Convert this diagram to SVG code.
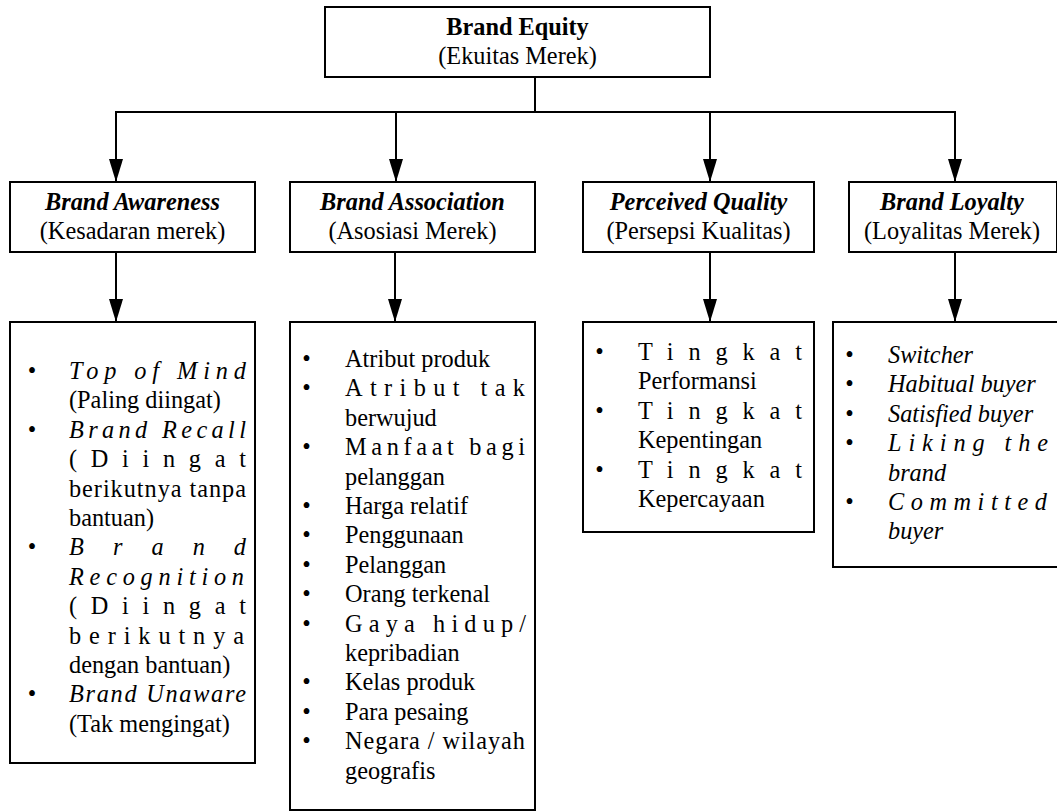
<svg xmlns="http://www.w3.org/2000/svg" width="1057" height="812" viewBox="0 0 1057 812">
<defs>
<style>
rect.box{fill:#fff;stroke:#000;stroke-width:2}
.conn line{stroke:#000;stroke-width:2}
text{font-family:"Liberation Serif","Times New Roman",serif;font-size:24.3px;fill:#000}
.c{text-anchor:middle}
.bd{font-weight:bold}
.bi{font-weight:bold;font-style:italic}
.i{font-style:italic}
.bul{text-anchor:middle}
</style>
<marker id="ah" markerUnits="userSpaceOnUse" markerWidth="23" markerHeight="14" refX="23" refY="7" orient="auto">
<path d="M0,0 L23,7 L0,14 z" fill="#000"/>
</marker>
</defs>
<rect width="1057" height="812" fill="#fff"/>

<g id="connectors" class="conn">
<line x1="535" y1="77" x2="535" y2="112"/>
<line x1="115" y1="112" x2="956" y2="112"/>
<line x1="116" y1="111" x2="116" y2="182" marker-end="url(#ah)"/>
<line x1="396" y1="111" x2="396" y2="182" marker-end="url(#ah)"/>
<line x1="710" y1="111" x2="710" y2="182" marker-end="url(#ah)"/>
<line x1="955" y1="111" x2="955" y2="182" marker-end="url(#ah)"/>
<line x1="116" y1="252" x2="116" y2="322" marker-end="url(#ah)"/>
<line x1="395" y1="252" x2="395" y2="322" marker-end="url(#ah)"/>
<line x1="710" y1="252" x2="710" y2="322" marker-end="url(#ah)"/>
<line x1="955" y1="252" x2="955" y2="322" marker-end="url(#ah)"/>
</g>

<g id="brand-equity">
<rect class="box" x="325" y="7" width="385" height="70"/>
<text class="c bd" x="517.5" y="35">Brand Equity</text>
<text class="c" x="517.5" y="64">(Ekuitas Merek)</text>
</g>

<g id="brand-awareness">
<rect class="box" x="10" y="182" width="245" height="70"/>
<text class="c bi" x="132.5" y="210">Brand Awareness</text>
<text class="c" x="132.5" y="239">(Kesadaran merek)</text>
</g>

<g id="brand-association">
<rect class="box" x="290" y="182" width="245" height="70"/>
<text class="c bi" x="412.5" y="210">Brand Association</text>
<text class="c" x="412.5" y="239">(Asosiasi Merek)</text>
</g>

<g id="perceived-quality">
<rect class="box" x="583" y="182" width="231" height="70"/>
<text class="c bi" x="698.5" y="210">Perceived Quality</text>
<text class="c" x="698.5" y="239">(Persepsi Kualitas)</text>
</g>

<g id="brand-loyalty">
<rect class="box" x="849" y="182" width="208" height="70"/>
<text class="c bi" x="952" y="210">Brand Loyalty</text>
<text class="c" x="952" y="239">(Loyalitas Merek)</text>
</g>

<g id="awareness-list">
<rect class="box" x="10" y="322" width="245" height="441"/>
<text class="bul" x="32" y="379">•</text>
<text class="bul" x="32" y="437.8">•</text>
<text class="bul" x="32" y="555.4">•</text>
<text class="bul" x="32" y="702.4">•</text>
<text class="i" x="69" y="379" textLength="177" lengthAdjust="spacing">Top of Mind</text>
<text x="69" y="408.4">(Paling diingat)</text>
<text class="i" x="69" y="437.8" textLength="177" lengthAdjust="spacing">Brand Recall</text>
<text x="69" y="467.2" textLength="177" lengthAdjust="spacing">(Diingat</text>
<text x="69" y="496.6" textLength="177" lengthAdjust="spacing">berikutnya tanpa</text>
<text x="69" y="526">bantuan)</text>
<text class="i" x="69" y="555.4" textLength="177" lengthAdjust="spacing">Brand</text>
<text class="i" x="69" y="584.8" textLength="175" lengthAdjust="spacing">Recognition</text>
<text x="69" y="614.2" textLength="177" lengthAdjust="spacing">(Diingat</text>
<text x="69" y="643.6" textLength="175" lengthAdjust="spacing">berikutnya</text>
<text x="69" y="673">dengan bantuan)</text>
<text class="i" x="69" y="702.4" textLength="177" lengthAdjust="spacing">Brand Unaware</text>
<text x="69" y="731.8">(Tak mengingat)</text>
</g>

<g id="association-list">
<rect class="box" x="290" y="322" width="245" height="488"/>
<text class="bul" x="306.5" y="367">•</text>
<text class="bul" x="306.5" y="396.4">•</text>
<text class="bul" x="306.5" y="455.2">•</text>
<text class="bul" x="306.5" y="514">•</text>
<text class="bul" x="306.5" y="543.4">•</text>
<text class="bul" x="306.5" y="572.8">•</text>
<text class="bul" x="306.5" y="602.2">•</text>
<text class="bul" x="306.5" y="631.6">•</text>
<text class="bul" x="306.5" y="690.4">•</text>
<text class="bul" x="306.5" y="719.8">•</text>
<text class="bul" x="306.5" y="749.2">•</text>
<text x="345" y="367">Atribut produk</text>
<text x="345" y="396.4" textLength="180" lengthAdjust="spacing">Atribut tak</text>
<text x="345" y="425.8">berwujud</text>
<text x="345" y="455.2" textLength="180" lengthAdjust="spacing">Manfaat bagi</text>
<text x="345" y="484.6">pelanggan</text>
<text x="345" y="514">Harga relatif</text>
<text x="345" y="543.4">Penggunaan</text>
<text x="345" y="572.8">Pelanggan</text>
<text x="345" y="602.2">Orang terkenal</text>
<text x="345" y="631.6" textLength="181" lengthAdjust="spacing">Gaya hidup/</text>
<text x="345" y="661">kepribadian</text>
<text x="345" y="690.4">Kelas produk</text>
<text x="345" y="719.8">Para pesaing</text>
<text x="345" y="749.2" textLength="180" lengthAdjust="spacing">Negara / wilayah</text>
<text x="345" y="778.6">geografis</text>
</g>

<g id="quality-list">
<rect class="box" x="583" y="322" width="231" height="210"/>
<text class="bul" x="599.5" y="360">•</text>
<text class="bul" x="599.5" y="418.8">•</text>
<text class="bul" x="599.5" y="477.6">•</text>
<text x="638" y="360" textLength="164" lengthAdjust="spacing">Tingkat</text>
<text x="638" y="389.4">Performansi</text>
<text x="638" y="418.8" textLength="164" lengthAdjust="spacing">Tingkat</text>
<text x="638" y="448.2">Kepentingan</text>
<text x="638" y="477.6" textLength="164" lengthAdjust="spacing">Tingkat</text>
<text x="638" y="507">Kepercayaan</text>
</g>

<g id="loyalty-list">
<rect class="box" x="833" y="322" width="225" height="245"/>
<text class="bul" x="849.5" y="363">•</text>
<text class="bul" x="849.5" y="392.4">•</text>
<text class="bul" x="849.5" y="421.8">•</text>
<text class="bul" x="849.5" y="451.2">•</text>
<text class="bul" x="849.5" y="510">•</text>
<text class="i" x="888" y="363">Switcher</text>
<text class="i" x="888" y="392.4">Habitual buyer</text>
<text class="i" x="888" y="421.8">Satisfied buyer</text>
<text class="i" x="888" y="451.2" textLength="160" lengthAdjust="spacing">Liking the</text>
<text class="i" x="888" y="480.6">brand</text>
<text class="i" x="888" y="510" textLength="159" lengthAdjust="spacing">Committed</text>
<text class="i" x="888" y="539.4">buyer</text>
</g>
</svg>
